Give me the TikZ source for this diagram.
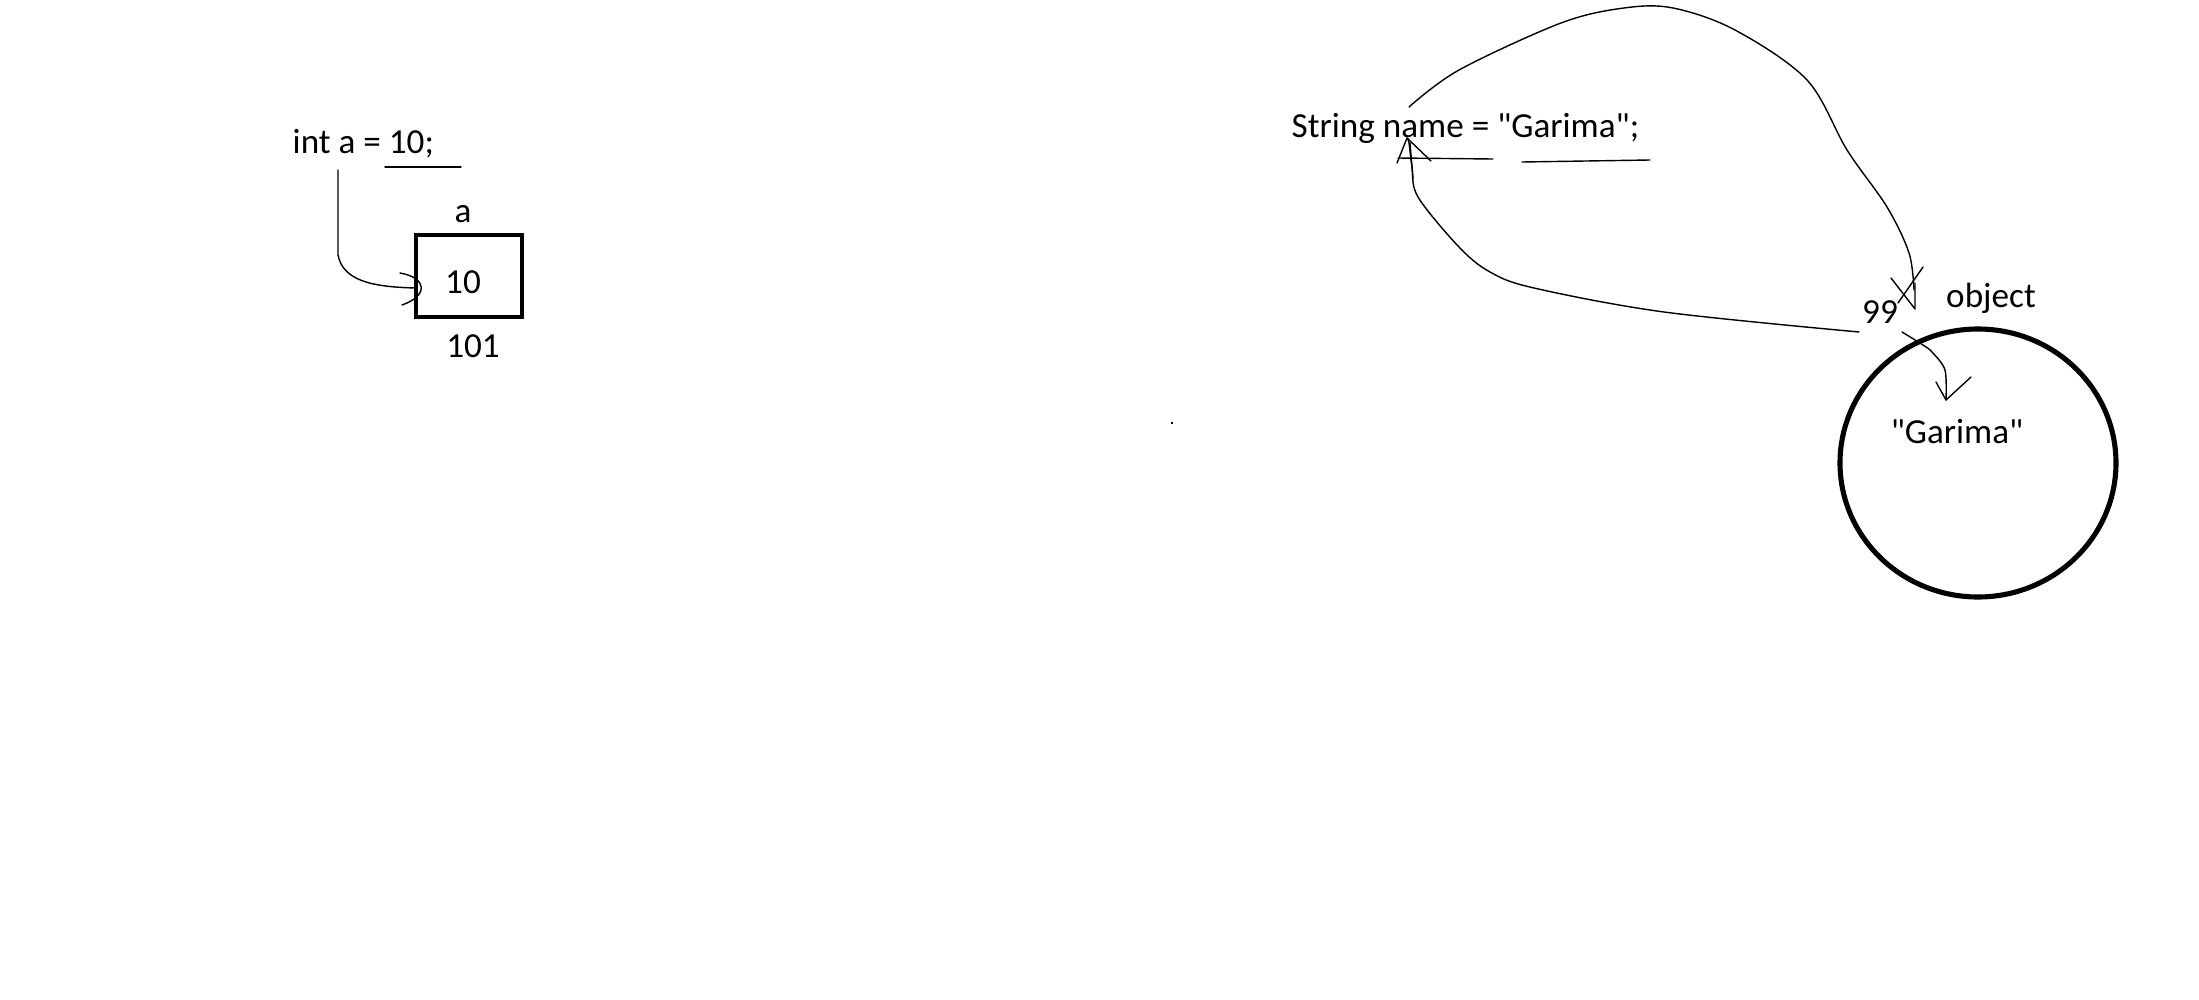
\documentclass[tikz,border=0pt]{standalone}
\usepackage{fontspec}
\setmainfont{Carlito}[Ligatures=TeXReset]
\newcommand{\dq}{\char34\relax}
\begin{document}
\begin{tikzpicture}[x=0.01cm,y=-0.01cm,
  lbl/.style={inner sep=0pt,font=\fontsize{10}{12}\selectfont},
  thin line/.style={line width=0.4pt,line cap=round,line join=round},
  cellbox/.style={line width=1.15pt},
  objcircle/.style={line width=1.45pt}]
\useasboundingbox (0,0) rectangle (2199,1000);
% ---------- left: int a = 10;
\node[lbl,anchor=base west] (decl) at (292,153) {int a = 10;};
\node[lbl,anchor=base] (alabel) at (463,222) {a};
\draw[cellbox] (416,235) rectangle (522,317);
\coordinate (boxW) at (416,288);
\node[lbl,anchor=base] (val) at (463,293) {10};
\node[lbl,anchor=base] (addr) at (473,357) {101};
\draw[thin line] (385,167) -- (461,167);
\coordinate (declS) at (338,170);
\draw[thin line] (declS) -- (338,255) .. controls (343,280) and (370,287) .. (boxW);
\draw[thin line] (400,273) .. controls (428,278) and (428,296) .. (402,305);
% ---------- right: String name = "Garima";
\node[lbl,anchor=base west] (sdecl) at (1291,137) {String name = \dq Garima\dq;};
\coordinate (tip) at (1407,138);
\draw[thin line] (1397,163) -- (tip) -- (1431,161);
\draw[thin line] (1398,158) -- (1493,159);
\draw[thin line] (1522,162) -- (1650,160);
% top loop to 99
\draw[thin line] plot[smooth,tension=0.55] coordinates {(1409,107) (1459,70) (1561,23) (1624,8) (1673,8) (1735,30) (1807,80) (1847,150) (1887,207) (1909,253) (1914,290)};
\draw[thin line] (1891,278) -- (1915,309) -- (1915,283);
\draw[thin line] (1898,303) -- (1923,267);
% return curve from 99 to name
\draw[thin line] plot[smooth,tension=0.55] coordinates {(1859,332) (1664,312) (1534,288) (1490,272) (1459,247) (1418,197) (1412,167) (1409,143) (tip)};
\draw[thin line] (1410,143) -- (1413,179);
% object
\node[lbl,anchor=base] (ref) at (1880,323) {99};
\node[lbl,anchor=base] (objlbl) at (1991,307) {object};
\draw[objcircle] (1978,463) ellipse [x radius=138,y radius=134];
\node[lbl,anchor=base] (str) at (1957,443) {\dq Garima\dq};
\coordinate (otip) at (1946,400);
\draw[thin line] plot[smooth,tension=0.5] coordinates {(1902,332) (1923,345) (1932,352) (1945,370) (otip)};
\draw[thin line] (1936,382) -- (otip) -- (1971,377);
% speck
\fill (1171,422) rectangle (1172.5,423.5);
\end{tikzpicture}
\end{document}
